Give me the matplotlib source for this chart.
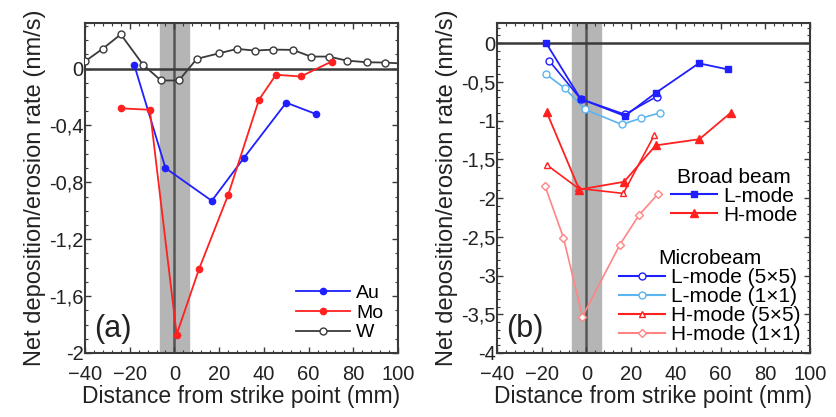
import matplotlib.pyplot as plt
from matplotlib.ticker import MultipleLocator, FuncFormatter
from matplotlib.lines import Line2D

plt.rcParams['font.family'] = ['Liberation Sans', 'DejaVu Sans']

# panel (a): element markers
w_x = [-40, -32, -24, -14, -6, 2, 10, 20, 28, 36, 44, 53, 61, 69, 77, 86, 94, 102]
w_y = [0.05, 0.14, 0.24, 0.026, -0.084, -0.084, 0.068, 0.107, 0.138, 0.126, 0.133,
       0.131, 0.084, 0.084, 0.056, 0.044, 0.042, 0.035]
au_x = [-18, -4, 16.7, 31, 50, 63.3]
au_y = [0.026, -0.70, -0.93, -0.63, -0.24, -0.32]
mo_x = [-24, -11, 1, 11, 24, 37.8, 45.4, 56.5, 70.3]
mo_y = [-0.28, -0.29, -1.87, -1.41, -0.89, -0.22, -0.044, -0.056, 0.049]

# panel (b): broad beam and microbeam
bl_x = [-18, -2.6, 17.2, 31.1, 50.3, 63.4]
bl_y = [0.0, -0.72, -0.94, -0.64, -0.26, -0.34]
bh_x = [-17.8, -3.2, 16.8, 31, 50.5, 64.5]
bh_y = [-0.89, -1.89, -1.79, -1.32, -1.24, -0.90]
l55_x = [-16.6, -2.6, 17.2, 31.4]
l55_y = [-0.23, -0.72, -0.92, -0.69]
l11_x = [-18.1, -9.6, -0.6, 15.8, 24.3, 32.9]
l11_y = [-0.40, -0.585, -0.856, -1.05, -0.97, -0.90]
h55_x = [-17.8, -3.6, 16.5, 30.3]
h55_y = [-1.57, -1.875, -1.94, -1.19]
h11_x = [-18.5, -10.3, -1.8, 15, 23.5, 31.9]
h11_y = [-1.845, -2.51, -3.53, -2.60, -2.22, -1.95]

grey = '#3a3a3a'
txt = '#222222'
blue = '#1f1fff'
red = '#ff2020'
lightblue = '#5ab4f0'
pink = '#ff8585'

fig = plt.figure(figsize=(8.37, 4.17), dpi=100)
axa = fig.add_axes([85/837, 64/417, 313/837, 330/417])
axb = fig.add_axes([497/837, 64/417, 313/837, 330/417])


def comma(v, pos):
    v = round(v, 3)
    if v == 0:
        return '0'
    return f"{v:g}".replace('.', ',')


def style(ax, ymin, ymax, ymaj, ymin_step):
    ax.set_xlim(-40, 100)
    ax.set_ylim(ymin, ymax)
    ax.axvspan(-6.3, 6.3, color='#b5b5b5', zorder=0)
    ax.axvline(0, color='#555555', lw=1.8, zorder=1)
    ax.axhline(0, color=grey, lw=1.8, zorder=1)
    ax.xaxis.set_major_locator(MultipleLocator(20))
    ax.xaxis.set_minor_locator(MultipleLocator(4))
    ax.yaxis.set_major_locator(MultipleLocator(ymaj))
    ax.yaxis.set_minor_locator(MultipleLocator(ymin_step))
    ax.yaxis.set_major_formatter(FuncFormatter(comma))
    ax.tick_params(which='both', direction='in', top=True, right=True, color=grey,
                   labelsize=14.5, labelcolor=txt)
    ax.tick_params(axis='y', pad=1)
    ax.tick_params(axis='x', pad=9)
    ax.tick_params(which='major', length=4, width=1)
    ax.tick_params(which='minor', length=2, width=0.8)
    for s in ax.spines.values():
        s.set_color(grey)
        s.set_linewidth(1.5)
    ax.set_xlabel('Distance from strike point (mm)', fontsize=16.5, color=txt, labelpad=0)
    ax.set_ylabel('Net deposition/erosion rate (nm/s)', fontsize=17, color=txt, labelpad=2)


style(axa, -2, 0.32, 0.4, 0.1)
axa.plot(w_x, w_y, color=grey, marker='o', ms=5, mfc='white', mec=grey, lw=1.3, label='W', zorder=3)
axa.plot(au_x, au_y, color=blue, marker='o', ms=4.5, lw=1.3, label='Au', zorder=4)
axa.plot(mo_x, mo_y, color=red, marker='o', ms=4.5, lw=1.3, label='Mo', zorder=4)
h, l = axa.get_legend_handles_labels()
order = [1, 2, 0]
axa.legend([h[i] for i in order], [l[i] for i in order], loc='lower right', frameon=False,
           fontsize=14, handlelength=2.8, handletextpad=0.3, labelspacing=0.1,
           borderaxespad=0.2, bbox_to_anchor=(0.99, 0.0))
axa.text(0.03, 0.05, '(a)', transform=axa.transAxes, fontsize=22, color=txt)

style(axb, -4, 0.26, 0.5, 0.1)
axb.plot(h11_x, h11_y, color=pink, marker='D', ms=4, mfc='white', mec=pink, lw=1.2, zorder=3)
axb.plot(l11_x, l11_y, color=lightblue, marker='o', ms=5, mfc='white', mec=lightblue, lw=1.2, zorder=3)
axb.plot(h55_x, h55_y, color=red, marker='^', ms=5, mfc='white', mec=red, lw=1.2, zorder=3)
axb.plot(l55_x, l55_y, color=blue, marker='o', ms=5, mfc='white', mec=blue, lw=1.2, zorder=3)
axb.plot(bh_x, bh_y, color=red, marker='^', ms=5.5, lw=1.3, zorder=4)
axb.plot(bl_x, bl_y, color=blue, marker='s', ms=4.5, lw=1.3, zorder=4)

broad = [Line2D([], [], color=blue, marker='s', ms=4.5),
         Line2D([], [], color=red, marker='^', ms=5.5)]
micro = [Line2D([], [], color=blue, marker='o', ms=5, mfc='white'),
         Line2D([], [], color=lightblue, marker='o', ms=5, mfc='white'),
         Line2D([], [], color=red, marker='^', ms=5, mfc='white'),
         Line2D([], [], color=pink, marker='D', ms=4, mfc='white')]
leg1 = axb.legend(broad, ['L-mode', 'H-mode'], title='Broad beam', loc='upper right',
                  bbox_to_anchor=(1.0, 0.60), frameon=False, fontsize=15, title_fontsize=15,
                  handlelength=2.2, handletextpad=0.3, labelspacing=0.0, borderpad=0.1)
axb.add_artist(leg1)
axb.legend(micro, ['L-mode (5\u00d75)', 'L-mode (1\u00d71)', 'H-mode (5\u00d75)', 'H-mode (1\u00d71)'],
           title='Microbeam', loc='lower right', bbox_to_anchor=(1.01, -0.01), frameon=False,
           fontsize=15, title_fontsize=15, handlelength=2.2, handletextpad=0.3,
           labelspacing=0.0, borderpad=0.1)
axb.text(0.03, 0.05, '(b)', transform=axb.transAxes, fontsize=22, color=txt)

fig.savefig('out.png', dpi=100)
